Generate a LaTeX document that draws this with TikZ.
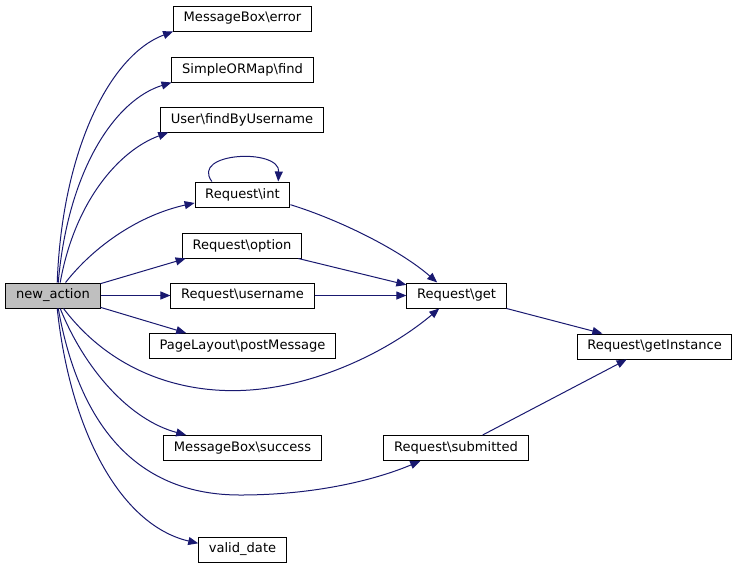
\documentclass[tikz,border=0pt]{standalone}
\usepackage{fontspec}
\setmainfont{DejaVu Sans}
\usetikzlibrary{arrows.meta}
\definecolor{edgeblue}{HTML}{191970}
\begin{document}
\begin{tikzpicture}[x=0.75pt,y=-0.75pt,
	fn/.style={draw=black,line width=0.75pt,fill=white,inner xsep=7.6pt,inner ysep=0pt,minimum height=18.75pt,font=\fontsize{9.8}{12}\selectfont},
	call/.style={draw=edgeblue,line width=0.75pt,-{Triangle[length=7.5pt,width=6pt]},fill=none}]
	\useasboundingbox (0,0) rectangle (737,568);
	% Knoten
	\node[fn,fill=black!25] (na) at (53,295.5) {new\_action};
	\node[fn] (err) at (242.5,18.5) {MessageBox\textbackslash error};
	\node[fn] (find) at (242.5,69.5) {SimpleORMap\textbackslash find};
	\node[fn] (fbu) at (242,119.5) {User\textbackslash findByUsername};
	\node[fn] (int) at (242.5,194.5) {Request\textbackslash int};
	\node[fn] (opt) at (242,245.5) {Request\textbackslash option};
	\node[fn] (usr) at (242.5,295.5) {Request\textbackslash username};
	\node[fn] (pm) at (242.5,346) {PageLayout\textbackslash postMessage};
	\node[fn] (suc) at (242.5,448) {MessageBox\textbackslash success};
	\node[fn] (vd) at (242.5,549.5) {valid\_date};
	\node[fn] (get) at (456.5,295.5) {Request\textbackslash get};
	\node[fn] (sub) at (456,448) {Request\textbackslash submitted};
	\node[fn] (gi) at (654.5,346.5) {Request\textbackslash getInstance};
	% Aufrufe von new_action
	\draw[call] (na.72) .. controls (62,150) and (110,55) .. (err.south west);
	\draw[call] (na.68) .. controls (68,170) and (115,100) .. (find.south west);
	\draw[call] (na.61) .. controls (75,200) and (120,150) .. (fbu.190);
	\draw[call] (na.46) .. controls (95,245) and (140,215) .. (int.190);
	\draw[call] (na.14) to (opt.193);
	\draw[call] (na.east) to (usr.west);
	\draw[call] (na.-14) to (pm.167);
	\draw[call] (na.-51) .. controls (110,370) and (180,395) .. (250,390) .. controls (320,385) and (390,350) .. (get.217);
	\draw[call] (na.-61) .. controls (85,370) and (130,420) .. (suc.167);
	\draw[call] (na.-68) .. controls (80,430) and (140,495) .. (240,495) .. controls (320,495) and (380,478) .. (sub.200);
	\draw[call] (na.-72) .. controls (70,430) and (120,525) .. (vd.172);
	% Request
	\draw[call] (int.157) .. controls (190,152) and (280,148) .. (int.20);
	\draw[call] (int.-12) .. controls (340,220) and (400,250) .. (get.146);
	\draw[call] (opt.-13) to (get.168);
	\draw[call] (usr.east) to (get.west);
	\draw[call] (get.south east) to (gi.166);
	\draw[call] (sub.26) to (gi.205);
\end{tikzpicture}
\end{document}
